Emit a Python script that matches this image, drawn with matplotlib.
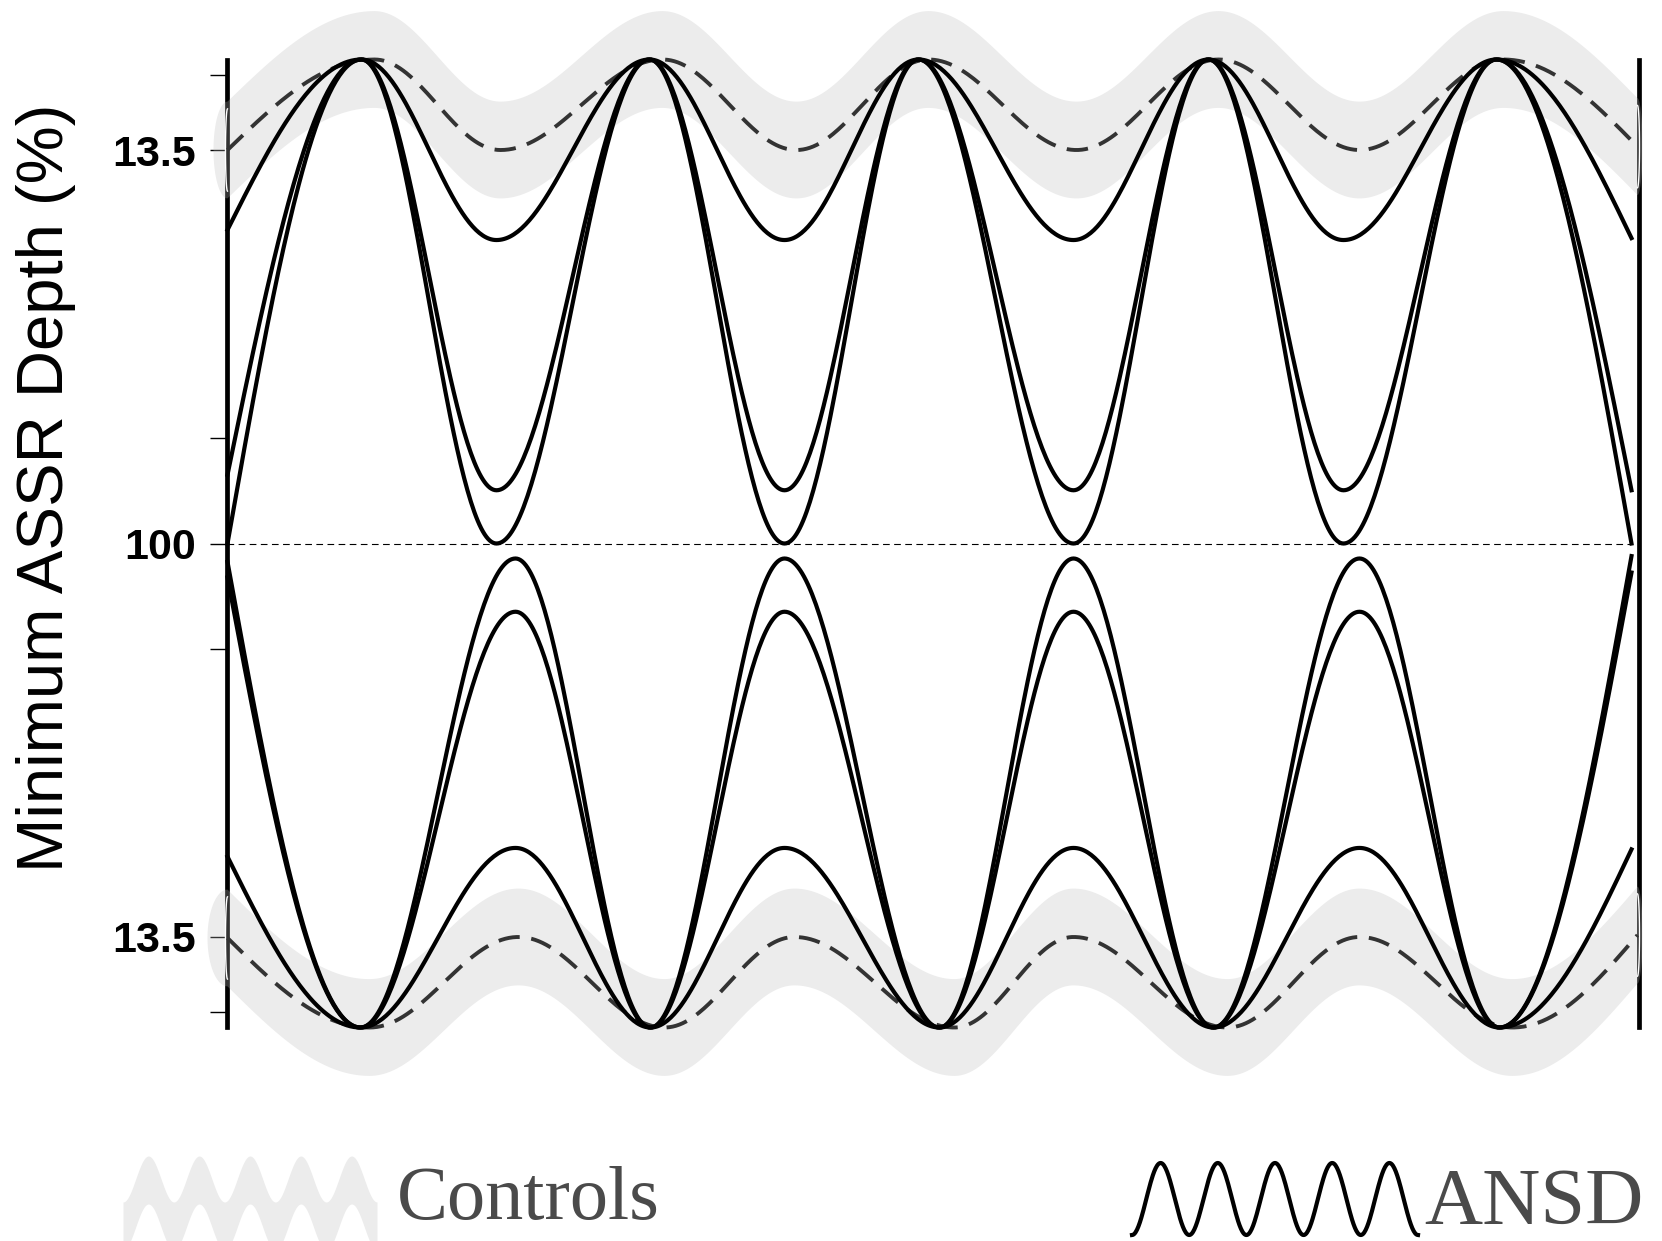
import numpy as np
import matplotlib
matplotlib.use("Agg")
import matplotlib.pyplot as plt
from matplotlib.patches import Polygon

plt.rcParams['font.family'] = ['Liberation Sans', 'DejaVu Sans']

# ---- data (x: arbitrary time units, y: depth units) ----
x_start, x_end, x_end_ctrl = 0, 1404, 1410

# ANSD, upper group (three curves: shallow, mid, deep)
top_peak_x = [134, 422, 691, 981, 1269]
top_trough_x = [269, 557, 846, 1116]
top_peak_y = 100.0
ansd_top_trough = [62.7, 11.0, 0.0]
ansd_top_start = [64.8, 14.2, 0.0]
ansd_top_end = [63.1, 11.0, 0.0]

# ANSD, lower group
bot_trough_x = [133, 423, 712, 986, 1272]
bot_peak_x = [288, 557, 846, 1132]
bot_trough_y = -100.0
ansd_bot_peak = [-62.9, -14.1, -3.1]
ansd_bot_start = [-64.7, -7.0, -3.8]
ansd_bot_end = [-63.2, -6.0, -2.6]

# Controls mean (dashed) and spread (grey band)
ctrl_top_peak_x = [147, 435, 701, 991, 1276]
ctrl_top_trough_x = [273, 569, 849, 1132]
ctrl_top_trough, ctrl_top_start, ctrl_top_end = 81.3, 81.3, 82.0
ctrl_bot_trough_x = [142, 437, 727, 1000, 1285]
ctrl_bot_peak_x = [291, 567, 846, 1132]
ctrl_bot_peak, ctrl_bot_start, ctrl_bot_end = -81.3, -81.5, -80.9
ctrl_sd = 10.0

tick_vals = [96.8, 81.3, 21.7, 0, -21.7, -81.3, -96.8]
tick_labels = ['', '13.5', '', '100', '', '13.5', '']


def knots(ext_a, val_a, ext_b, val_b, x0, y0, x1, y1):
    pts = [(x, val_a) for x in ext_a] + [(x, val_b) for x in ext_b]
    pts.sort()
    pts = [(x0, y0)] + pts + [(x1, y1)]
    return [p[0] for p in pts], [p[1] for p in pts]


def smooth(xk, yk, n=80):
    # half-cosine between extrema, quarter waves at the open ends
    xs, ys = [], []
    for i in range(len(xk) - 1):
        t = np.linspace(0, 1, n)
        if i == 0:
            s = np.sin(np.pi / 2 * t)
        elif i == len(xk) - 2:
            s = 1 - np.cos(np.pi / 2 * t)
        else:
            s = (1 - np.cos(np.pi * t)) / 2
        xs.append(xk[i] + (xk[i + 1] - xk[i]) * t)
        ys.append(yk[i] + (yk[i + 1] - yk[i]) * s)
    return np.concatenate(xs), np.concatenate(ys)


def band(ax, x, m, sd, capl=14, capr=5):
    th = np.linspace(-np.pi / 2, np.pi / 2, 40)
    right = np.column_stack([x[-1] + capr * np.cos(th), m[-1] + sd * np.sin(th)])
    left = np.column_stack([x[0] - capl * np.cos(th), m[0] - sd * np.sin(th)])
    upper = np.column_stack([x, m + sd])
    lower = np.column_stack([x[::-1], (m - sd)[::-1]])
    verts = np.vstack([upper, right[::-1], lower, left[::-1]])
    g = 186 / 255
    ax.add_patch(Polygon(verts, closed=True, facecolor=(g, g, g), alpha=0.2745,
                         lw=0, zorder=3, clip_on=False))
    # thin white rims where the band crosses the axis lines
    ax.plot(x[0] - 2 * np.cos(th), m[0] + 0.85 * sd * np.sin(th), color='white',
            lw=1.0, zorder=3.2, clip_on=False)
    ax.plot(x[-1] + 2 * np.cos(th), m[-1] + 0.85 * sd * np.sin(th), color='white',
            lw=1.0, zorder=3.2, clip_on=False)


fig = plt.figure(figsize=(16.62, 12.41), dpi=100)
ax = fig.add_axes([0.13688, 0.17204, 0.98646 - 0.13688, 0.95205 - 0.17204])
ax.set_xlim(0, 1412)
ax.set_ylim(-100, 100)

dash = (0, (5.5, 3.0))

# controls
xk, yk = knots(ctrl_top_peak_x, top_peak_y, ctrl_top_trough_x, ctrl_top_trough,
               x_start, ctrl_top_start, x_end_ctrl, ctrl_top_end)
cx, cy = smooth(xk, yk)
band(ax, cx, cy, ctrl_sd)
ax.plot(cx, cy, color='#333333', lw=2.8, ls=dash, zorder=3.5, clip_on=False)

xk, yk = knots(ctrl_bot_trough_x, bot_trough_y, ctrl_bot_peak_x, ctrl_bot_peak,
               x_start, ctrl_bot_start, x_end_ctrl, ctrl_bot_end)
cx, cy = smooth(xk, yk)
band(ax, cx, cy, ctrl_sd, capl=20)
ax.plot(cx, cy, color='#333333', lw=2.8, ls=dash, zorder=3.5, clip_on=False)

# ANSD
for lev, s0, s1 in zip(ansd_top_trough, ansd_top_start, ansd_top_end):
    xk, yk = knots(top_peak_x, top_peak_y, top_trough_x, lev, x_start, s0, x_end, s1)
    ax.plot(*smooth(xk, yk), color='black', lw=3.0, zorder=4, clip_on=False)
for lev, s0, s1 in zip(ansd_bot_peak, ansd_bot_start, ansd_bot_end):
    xk, yk = knots(bot_trough_x, bot_trough_y, bot_peak_x, lev, x_start, s0, x_end, s1)
    ax.plot(*smooth(xk, yk), color='black', lw=3.0, zorder=4, clip_on=False)

ax.plot([x_start, x_end], [0, 0], color='black', lw=0.8, ls=(0, (6, 4)), zorder=2)

for side in ['top', 'bottom']:
    ax.spines[side].set_visible(False)
for side in ['left', 'right']:
    ax.spines[side].set_linewidth(3.4)
ax.set_xticks([])
ax.set_yticks(tick_vals)
ax.set_yticklabels(tick_labels, fontweight='bold', fontsize=31)
ax.tick_params(axis='y', length=12, width=1.0, pad=11)

fig.text(0.0277, 0.6072, 'Minimum ASSR Depth (%)', rotation=90, ha='center',
         va='center', fontsize=47)

# legend drawn in pixel space
lg = fig.add_axes([0, 0, 1, 1])
lg.set_xlim(0, 1662)
lg.set_ylim(1241, 0)
lg.axis('off')
gx = np.linspace(123, 377, 400)
gy = 1203 + 23 * np.cos(2 * np.pi * (gx - 123) / 50.8)
lg.fill_between(gx, gy - 24, gy + 24, color='#ececec', lw=0)
lg.text(397, 1219, 'Controls', family='Liberation Serif', fontsize=55,
        color='#4a4a4a', ha='left', va='baseline')
ax_ = np.linspace(1132, 1418, 400)
ay = 1199 + 36 * np.cos(2 * np.pi * (ax_ - 1132) / 57.2)
lg.plot(ax_, ay, color='black', lw=3.0)
lg.text(1424, 1224, 'ANSD', family='Liberation Serif', fontsize=58,
        color='#4a4a4a', ha='left', va='baseline')

fig.savefig('out.png', dpi=100)
